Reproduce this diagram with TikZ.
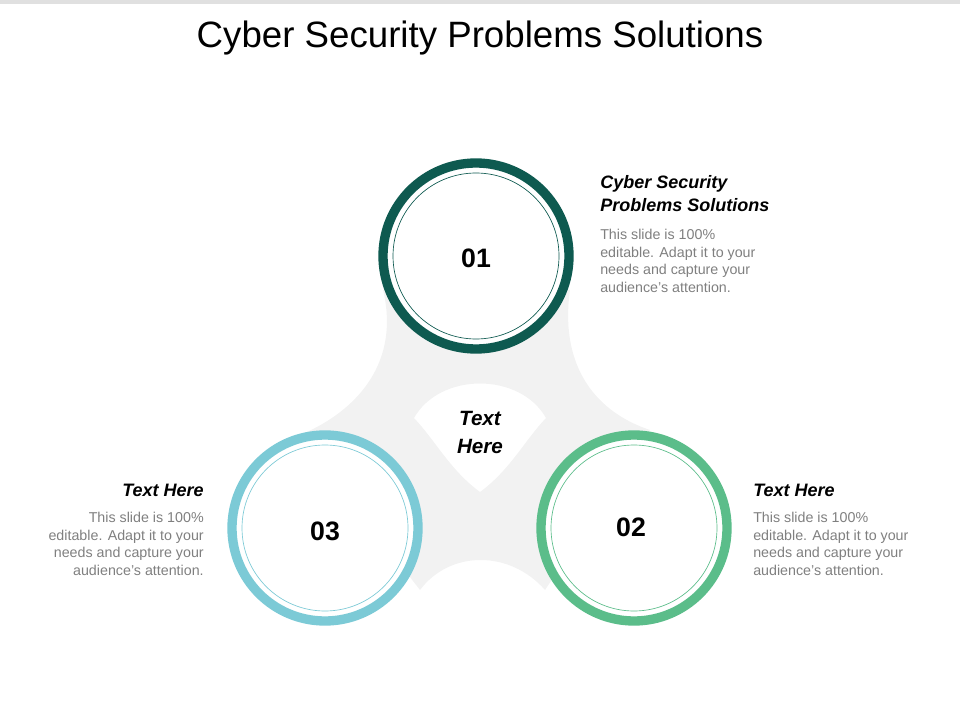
\documentclass[tikz,border=0pt]{standalone}
\usepackage{fontspec}
\setmainfont{Liberation Sans}
\definecolor{darkteal}{HTML}{0E5A50}
\definecolor{midgreen}{HTML}{5BBD8A}
\definecolor{lightblue}{HTML}{7CCAD6}
\definecolor{shadegray}{HTML}{F2F2F2}
\definecolor{bodygray}{HTML}{7F7F7F}
\tikzset{
  ring/.style={line width=7pt,fill=white,draw=#1},
  innerring/.style={line width=0.5pt,draw=#1},
  num/.style={font=\fontsize{20}{24}\selectfont\bfseries},
  head/.style={font=\fontsize{13.5}{17.5}\selectfont\bfseries\itshape,inner sep=0pt},
  body/.style={font=\fontsize{10.7}{13.2}\selectfont,text=bodygray,inner sep=0pt}
}
\begin{document}
\begin{tikzpicture}[x=0.75pt,y=-0.75pt]
\useasboundingbox (0,0) rectangle (960,720);
\fill[black!12] (0,0) rectangle (960,4);
\node (title) at (480,38) {\fontsize{27.5}{32}\selectfont Cyber Security Problems Solutions};
% gray background shape
\fill[shadegray,even odd rule] (383,290) .. controls (400,360) and (360,410) .. (300,435)
  -- (420,590) .. controls (450,550) and (510,550) .. (545,590)
  -- (650,430) .. controls (590,410) and (560,360) .. (570,290) -- cycle
  (414,418) .. controls (440,372) and (520,372) .. (546,418)
  .. controls (525,440) and (510,470) .. (480,492)
  .. controls (450,470) and (435,440) .. (414,418) -- cycle;
% circles
\draw[ring=darkteal] (476,256) circle (93);
\draw[innerring=darkteal] (476,256) circle (83);
\draw[ring=midgreen] (634,528) circle (93);
\draw[innerring=midgreen] (634,528) circle (83);
\draw[ring=lightblue] (325,528) circle (93);
\draw[innerring=lightblue] (325,528) circle (83);
\node[num] (n1) at (476,258) {01};
\node[num] (n2) at (631,527) {02};
\node[num] (n3) at (325,531) {03};
\node[head,align=center,font=\fontsize{15.5}{21}\selectfont\bfseries\itshape] (mid) at (480,432) {Text\\Here};
% text blocks
\node[head,align=left,anchor=north west] (h1) at (600,175) {Cyber Security\\Problems Solutions};
\node[body,align=left,anchor=north west] (b1) at (600,229) {This slide is 100\%\\editable. Adapt it to your\\needs and capture your\\audience's attention.};
\node[head,anchor=north west] (h2) at (753,484) {Text Here};
\node[body,align=left,anchor=north west] (b2) at (753,512) {This slide is 100\%\\editable. Adapt it to your\\needs and capture your\\audience's attention.};
\node[head,anchor=north east] (h3) at (204,484) {Text Here};
\node[body,align=right,anchor=north east] (b3) at (204,512) {This slide is 100\%\\editable. Adapt it to your\\needs and capture your\\audience's attention.};
\end{tikzpicture}
\end{document}
